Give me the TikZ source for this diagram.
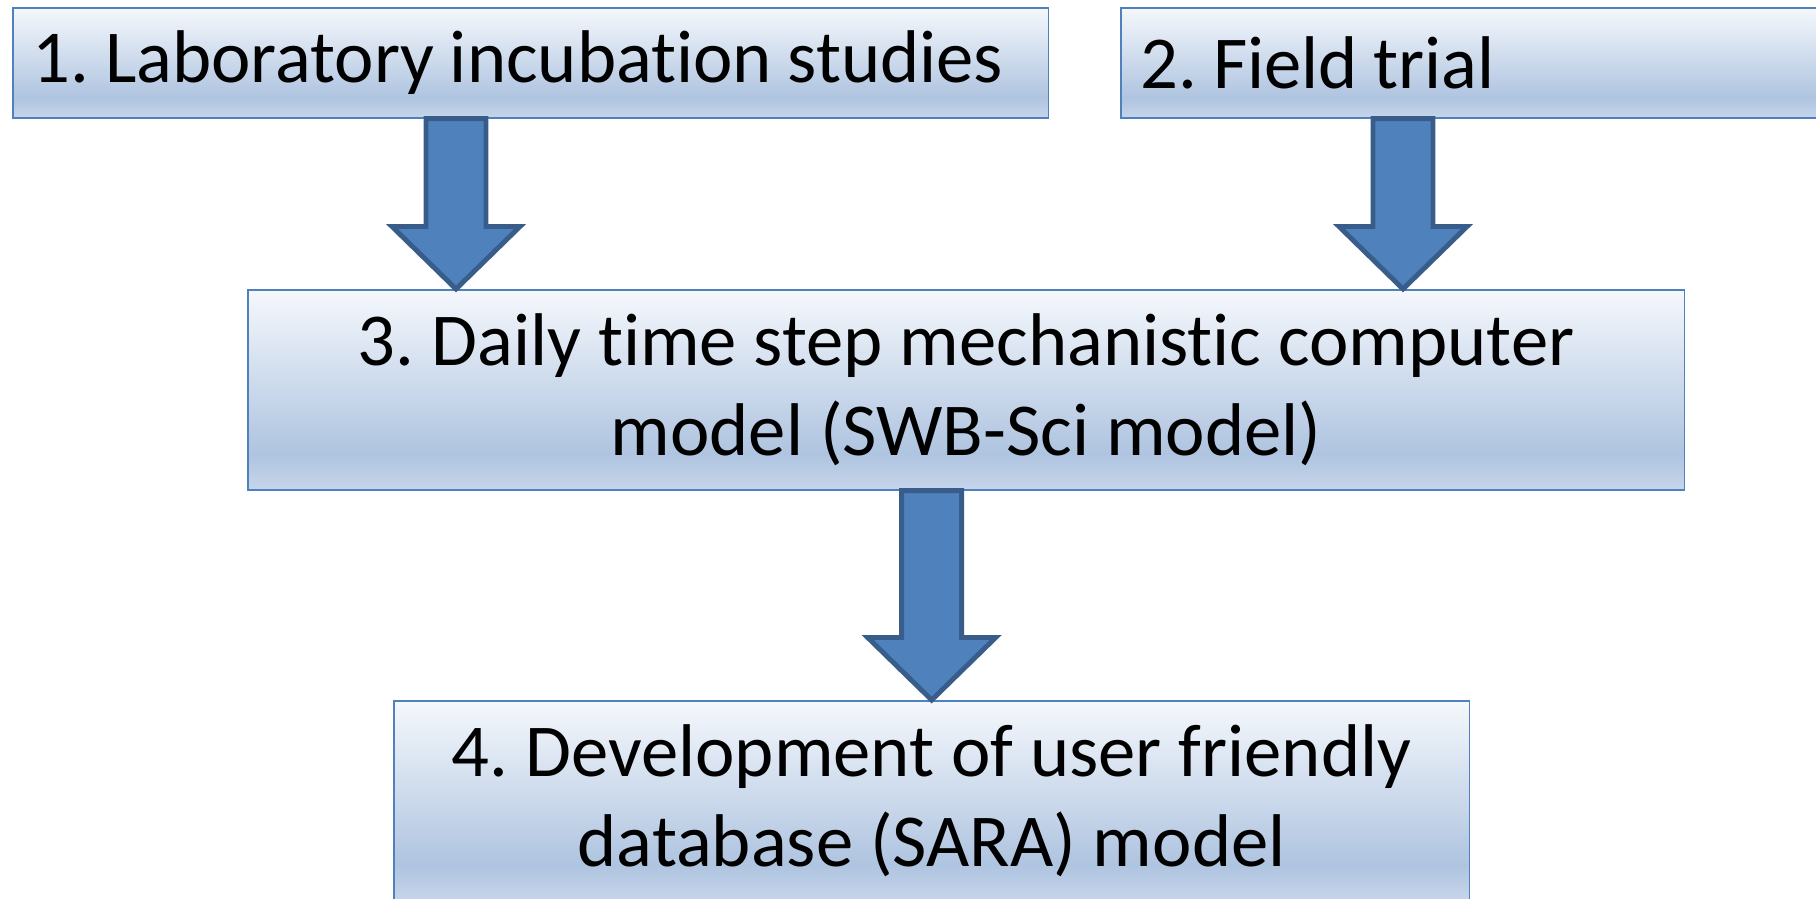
\documentclass[tikz,border=0pt]{standalone}
\usepackage{fontspec}
\setmainfont{Carlito}[Ligatures=CommonOff]
\usepackage{tikz}
\usetikzlibrary{calc}
\definecolor{boxLine}{RGB}{79,129,189}
\definecolor{boxTop}{RGB}{245,248,252}
\definecolor{boxMid}{RGB}{175,196,224}
\definecolor{boxBot}{RGB}{198,213,234}
\definecolor{arrowFill}{RGB}{79,129,189}
\definecolor{arrowLine}{RGB}{56,93,138}
\pgfdeclareverticalshading{boxshade}{100bp}{color(0bp)=(boxBot); color(25bp)=(boxBot);
  color(34bp)=(boxMid); color(75bp)=(boxTop); color(100bp)=(boxTop)}
\frenchspacing
\newcommand\stagefont{\fontsize{42.5}{51.5}\selectfont}
\newcommand\tightline[1]{\mbox{\spaceskip=0.21em\relax #1}}

% block arrow from the bottom of one box to the top of the next
\newcommand\stagearrow[2]{%
  \draw[flowarrow] let \p1=(#1), \p2=(#2) in
    (\x1-0.6cm,\y1) -- (\x1-0.6cm,\y2+1.25cm) -- (\x1-1.28cm,\y2+1.25cm) -- (\x2,\y2)
    -- (\x1+1.28cm,\y2+1.25cm) -- (\x1+0.6cm,\y2+1.25cm) -- (\x1+0.6cm,\y1) -- cycle;}

\begin{document}
\begin{tikzpicture}[
  x=0.02cm, y=-0.02cm,
  every node/.style={font=\stagefont},
  stagebox/.style={draw=boxLine,line width=0.9pt,shade,shading=boxshade,anchor=north west},
  topbox/.style={stagebox,minimum height=2.2cm,text width=19.92cm,inner xsep=0.4cm,inner ysep=0pt,align=left},
  midbox/.style={stagebox,minimum height=4cm,inner sep=0pt,align=center},
  flowarrow/.style={draw=arrowLine,fill=arrowFill,line width=2.8pt}
]
  \clip (0,0) rectangle (1816,899);

  \node[topbox] (lab) at (12,7) {\tightline{1. Laboratory incubation studies}};
  \node[topbox] (field) at (1120,7) {\tightline{2. Field trial}};
  \node[midbox,minimum width=28.74cm] (model) at (247,289)
    {3. Daily time step mechanistic computer\\model (SWB-Sci model)};
  \node[midbox,minimum width=21.52cm] (sara) at (393,700)
    {4. Development of user friendly\\database (SARA) model};

  \stagearrow{456,0 |- lab.south}{456,0 |- model.north}
  \stagearrow{1403,0 |- field.south}{1403,0 |- model.north}
  \stagearrow{sara.north |- model.south}{sara.north}
\end{tikzpicture}
\end{document}
